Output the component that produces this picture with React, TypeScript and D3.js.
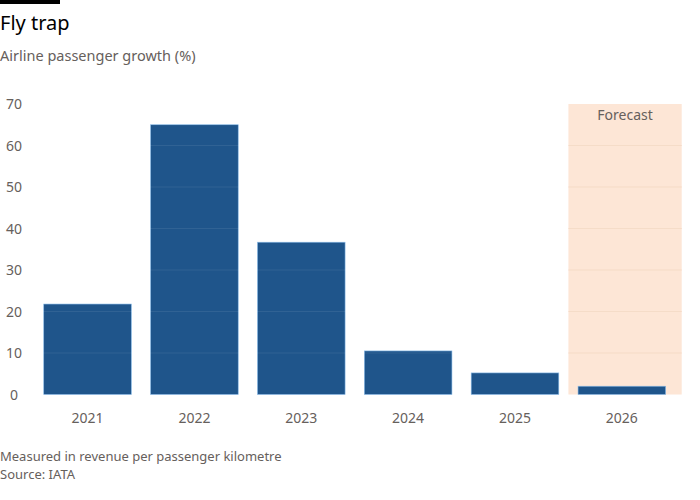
import * as d3 from "d3";
import React from "react";

// Data
const years = ["2021", "2022", "2023", "2024", "2025", "2026"];
const growth = [21.8, 65.0, 36.7, 10.5, 5.2, 2.0];
const forecastYears = ["2026"];
const yTicks = [0, 10, 20, 30, 40, 50, 60, 70];

const FONT = "'Noto Sans', 'Open Sans', sans-serif";
const TEXT_GREY = "#66605c";

export default function App(): React.ReactElement {
  const width = 700;
  const height = 500;

  const x = d3
    .scaleBand<string>()
    .domain(years)
    .range([27.7, 681.7])
    .paddingInner(0.18)
    .paddingOuter(0.15);

  const y = d3.scaleLinear().domain([0, 70]).range([394.5, 104]);

  const gap = x.step() * 0.18;
  const [r0, r1] = x.range();

  return (
    <div style={{ position: "absolute", left: 0, top: 0 }}>
      <svg width={width} height={height} style={{ display: "block", background: "#fff" }}>
        {/* brand bar */}
        <rect x={0} y={0} width={60} height={4} fill="#000" />

        <text x={0} y={30} fontFamily={FONT} fontSize={20} fill="#000">
          Fly trap
        </text>
        <text x={0} y={61} fontFamily={FONT} fontSize={14.5} fill={TEXT_GREY}>
          Airline passenger growth (%)
        </text>

        {/* forecast shading */}
        {forecastYears.map((yr) => {
          const left = (x(yr) ?? 0) - gap / 2;
          return (
            <g key={`fc-${yr}`}>
              <rect x={left} y={y(70)} width={r1 - left} height={y(0) - y(70)} fill="#fde6d6" />
              {/* gridlines inside the shading are faintly visible */}
              {yTicks.slice(1, -1).map((t) => (
                <line
                  key={`fcg-${t}`}
                  x1={left}
                  x2={r1}
                  y1={y(t)}
                  y2={y(t)}
                  stroke="#f5d9c4"
                  strokeWidth={1}
                />
              ))}
              <text
                x={left + (r1 - left) / 2}
                y={120}
                fontFamily={FONT}
                fontSize={14}
                fill={TEXT_GREY}
                textAnchor="middle"
              >
                Forecast
              </text>
            </g>
          );
        })}

        {/* bars */}
        {years.map((yr, i) => (
          <rect
            key={`bar-${yr}`}
            x={x(yr)}
            y={y(growth[i])}
            width={x.bandwidth()}
            height={y(0) - y(growth[i])}
            fill="#1f558b"
            stroke="#8cbde9"
            strokeWidth={0.6}
          />
        ))}

        {/* faint gridlines over the bars */}
        {yTicks.slice(1, -1).map((t) => (
          <line
            key={`grid-${t}`}
            x1={r0}
            x2={r1}
            y1={y(t)}
            y2={y(t)}
            stroke="#ffffff"
            strokeOpacity={0.08}
          />
        ))}

        {/* y tick labels */}
        {yTicks.map((t) => (
          <text
            key={`yt-${t}`}
            x={14}
            y={y(t) + 5}
            fontFamily={FONT}
            fontSize={14}
            fill={TEXT_GREY}
            textAnchor="middle"
          >
            {t}
          </text>
        ))}

        {/* x tick labels */}
        {years.map((yr) => (
          <text
            key={`xt-${yr}`}
            x={(x(yr) ?? 0) + x.bandwidth() / 2}
            y={423}
            fontFamily={FONT}
            fontSize={14}
            fill={TEXT_GREY}
            textAnchor="middle"
          >
            {yr}
          </text>
        ))}

        <text x={0} y={461} fontFamily={FONT} fontSize={13} fill={TEXT_GREY}>
          Measured in revenue per passenger kilometre
        </text>
        <text x={0} y={479} fontFamily={FONT} fontSize={13} fill={TEXT_GREY}>
          Source: IATA
        </text>
      </svg>
    </div>
  );
}
